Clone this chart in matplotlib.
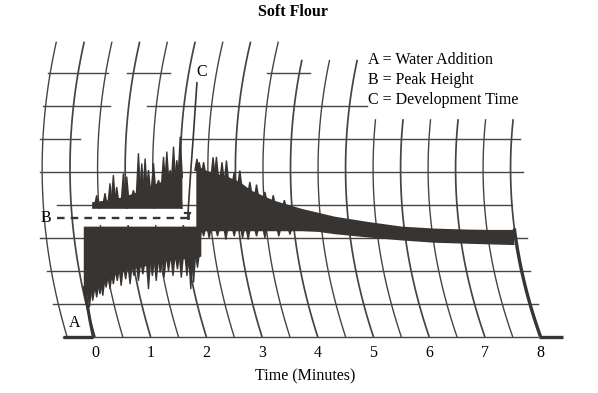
import numpy as np
import matplotlib
matplotlib.use("Agg")
import matplotlib.pyplot as plt
from matplotlib.patches import Rectangle, Polygon

# ---------------- data (time in minutes, height in chart units) ----------------
tick_minutes = [0, 1, 2, 3, 4, 5, 6, 7, 8]
tick_labels = ["0", "1", "2", "3", "4", "5", "6", "7", "8"]

# flat baseline trace before water addition and after the end of mixing
base_left_t = [-0.57, -0.03]
base_right_t = [7.97, 8.40]
# pen rising at water addition
rise_t = [-0.03, -0.09, -0.15, -0.19]
rise_u = [0.0, 0.5, 1.1, 1.5]

# phase 1, lower band (top edge flat)
low1_top_level = 3.36
low1_t = [-0.21, 0.0, 0.25, 0.5, 0.75, 1.0, 1.25, 1.5, 1.75, 1.90]
low1_bot = [1.3, 1.4, 1.8, 2.0, 2.1, 2.2, 2.3, 2.35, 2.4, 2.45]
low1_spike_t = [-0.16, -0.10, -0.04, 0.03, 0.09, 0.14, 0.20, 0.27, 0.33, 0.40,
                0.47, 0.55, 0.63, 0.70, 0.78, 0.86, 0.96, 1.03, 1.10, 1.17,
                1.24, 1.32, 1.40, 1.48, 1.55, 1.65, 1.72, 1.77, 1.84]
low1_spike_u = [1.0, 0.9, 1.1, 1.2, 1.3, 1.25, 1.5, 1.45, 1.6, 1.7,
                1.55, 1.75, 1.6, 1.85, 1.7, 1.9, 1.45, 1.85, 1.7, 1.95,
                1.8, 2.0, 1.85, 2.05, 1.8, 1.85, 1.45, 1.65, 2.1]

# phase 1, upper band (bottom edge flat)
up1_bot_level = 3.90
up1_t = [-0.06, 0.2, 0.5, 0.75, 1.0, 1.25, 1.45, 1.56]
up1_top = [4.1, 4.15, 4.25, 4.4, 4.6, 4.75, 4.9, 5.0]
up1_spike_t = [0.03, 0.18, 0.27, 0.33, 0.39, 0.51, 0.57, 0.69, 0.78, 0.84,
               0.90, 0.96, 1.05, 1.14, 1.23, 1.29, 1.35, 1.41, 1.47, 1.53]
up1_spike_u = [4.3, 4.36, 4.66, 4.91, 4.55, 4.96, 4.86, 4.45, 5.57, 5.26,
               5.41, 5.06, 5.27, 4.76, 5.46, 5.62, 5.06, 5.77, 5.36, 6.07]

# phase 2 (after development time)
t2 = [1.81, 2.0, 2.2, 2.4, 2.6, 2.8, 3.0, 3.2, 3.4, 3.7, 4.0, 4.3, 4.9, 5.5, 6.1, 6.7, 7.1, 7.52]
top2 = [5.2, 5.05, 4.95, 4.85, 4.7, 4.45, 4.3, 4.15, 4.05, 3.9, 3.78, 3.66, 3.5, 3.36, 3.3, 3.27, 3.26, 3.26]
bot2 = [3.2, 3.22, 3.22, 3.22, 3.22, 3.22, 3.22, 3.22, 3.22, 3.22, 3.2, 3.13, 3.03, 2.94, 2.87, 2.84, 2.82, 2.80]
up2_spike_t = [1.83, 1.87, 1.95, 2.12, 2.18, 2.28, 2.36, 2.50, 2.60, 2.78, 2.90, 3.05, 3.20, 3.40]
up2_spike_u = [5.4, 5.3, 5.3, 5.45, 5.46, 5.3, 5.35, 5.0, 5.05, 4.7, 4.62, 4.4, 4.3, 4.15]
dn2_spike_t = [1.88, 1.95, 2.05, 2.20, 2.35, 2.50, 2.65, 2.75, 2.90, 3.05, 3.30, 3.50]
dn2_spike_u = [2.9, 3.05, 3.0, 3.05, 2.95, 3.05, 3.0, 2.95, 3.05, 3.0, 3.05, 3.1]

# end of mixing: trace falls to the baseline along the last arc
drop_top_u = 3.24

# annotation values
peak_height_u = 3.6            # B
peak_line_t = [-0.68, 1.67]
dev_line_t = [1.83, 1.77, 1.71, 1.67]   # C pointer
dev_line_u = [7.7, 6.2, 4.8, 3.75]

# chart-paper grid
arc_minutes = list(np.arange(-0.5, 8.01, 0.5))
arc_tops = [8.95] * 9 + [8.4] * 3 + [6.6] * 6
grid_rows = [
    (0, -0.57, 7.95), (1, -0.75, 7.95), (2, -0.86, 7.81), (3, -0.99, 7.76),
    (4, -0.68, 7.49), (5, -0.99, 7.68), (6, -0.99, -0.27), (6, 1.53, 7.63),
    (7, -0.93, 0.27), (7, 0.93, 4.88), (8, -0.84, 0.23), (8, 0.57, 1.35),
    (8, 3.09, 3.86),
]

legend_lines = ["A = Water Addition", "B = Peak Height", "C = Development Time"]

# ---------------- geometry of the curved chart paper ----------------
PX_MIN = 55.7   # pixels per minute
PX_U = 33.0     # pixels per chart unit
UC = 5.1        # height of arc centre


def arc_x(k, u):
    R = 567.0 - 12.0 * max(k, 0.0)
    dy = PX_U * (np.asarray(u) - UC)
    dyb = PX_U * UC
    return k - (dyb ** 2 - dy ** 2) / (2 * R) / PX_MIN


# ---------------- figure ----------------
plt.rcParams["font.family"] = ["Liberation Serif", "DejaVu Serif"]
fig = plt.figure(figsize=(5.98, 3.93), dpi=100)
ax = fig.add_axes([53.2 / 598, 56 / 393, 512.5 / 598, 303.6 / 393])
ax.set_xlim(-0.75, 8.45)
ax.set_ylim(0, 9.2)
for s in ax.spines.values():
    s.set_visible(False)
ax.set_yticks([])
ax.set_xticks(tick_minutes)
ax.set_xticklabels(tick_labels, fontsize=11.5)
ax.tick_params(axis="x", length=0, pad=6)

gcol = "#444444"
# arcs
for k, top in zip(arc_minutes, arc_tops):
    u = np.linspace(0, top, 80)
    major = abs(k - round(k)) < 1e-9
    ax.plot(arc_x(k, u), u, color=gcol, lw=1.25 if major else 1.0,
            zorder=1, clip_on=False, solid_capstyle="butt")
# horizontal rows
for u, x0, x1 in grid_rows:
    ax.plot([x0, x1], [u, u], color=gcol, lw=1.0, zorder=1, clip_on=False)

# white gap around peak-height line
ax.add_patch(Rectangle((-0.25, low1_top_level + 0.02), 2.06,
                       up1_bot_level - low1_top_level - 0.04,
                       facecolor="white", edgecolor="none", zorder=2))

tc = "#383432"


def spikes(ts, tips, bases, w=0.05):
    for t, tip, b in zip(ts, tips, bases):
        ax.add_patch(Polygon([(t - w, b), (t - 0.012, tip), (t + 0.012, tip), (t + w, b)],
                             closed=True, facecolor=tc, edgecolor="none", zorder=3))


# baseline traces
ax.plot(base_left_t, [0, 0], color=tc, lw=2.4, zorder=3, clip_on=False, solid_capstyle="butt")
ax.plot(base_right_t, [0, 0], color=tc, lw=2.4, zorder=3, clip_on=False, solid_capstyle="butt")
ax.plot(rise_t, rise_u, color=tc, lw=2.2, zorder=3)

# phase 1 lower band
ax.fill_between(low1_t, low1_bot, low1_top_level, color=tc, lw=0, zorder=3)
spikes(low1_spike_t, low1_spike_u, np.interp(low1_spike_t, low1_t, low1_bot) + 0.15)
# phase 1 upper band
ax.fill_between(up1_t, up1_bot_level, up1_top, color=tc, lw=0, zorder=3)
spikes(up1_spike_t, up1_spike_u, np.interp(up1_spike_t, up1_t, up1_top) - 0.15)
# phase 2
ax.fill_between(t2, bot2, top2, color=tc, lw=0, zorder=3)
spikes(up2_spike_t, up2_spike_u, np.interp(up2_spike_t, t2, top2) - 0.15)
spikes(dn2_spike_t, dn2_spike_u, np.interp(dn2_spike_t, t2, bot2) + 0.1)
# drop at end
ud = np.linspace(0, drop_top_u, 40)
ax.plot(arc_x(8.0, ud), ud, color=tc, lw=2.4, zorder=3)

# B dashed line
ax.plot(peak_line_t, [peak_height_u] * 2, color=tc, lw=1.7, ls=(0, (3.2, 2.6)), zorder=4, clip_on=False)
# C pointer
ax.plot(dev_line_t, dev_line_u, color=tc, lw=1.2, zorder=4)
ax.plot([dev_line_t[-1] - 0.05, dev_line_t[-1] + 0.04], [dev_line_u[-1]] * 2, color=tc, lw=1.6, zorder=4)
ax.plot([dev_line_t[-1]] * 2, [peak_height_u, dev_line_u[-1]], color=tc, lw=2.0, zorder=4)

# letters
fs = 11.5
ax.text(-0.36, 0.42, "A", fontsize=fs, ha="center", va="center", zorder=5)
ax.text(-0.88, 3.6, "B", fontsize=fs, ha="center", va="center", zorder=5, clip_on=False)
ax.text(1.92, 8.03, "C", fontsize=fs, ha="center", va="center", zorder=5)
for i, line in enumerate(legend_lines):
    ax.text(4.90, 8.39 - 0.61 * i, line, fontsize=fs, ha="left", va="center", zorder=5)

ax.set_title("Soft Flour", fontsize=11.5, fontweight="bold", x=(293 - 53.2) / 512.5,
             y=(337 - 20) / 303.6, va="center")
ax.set_xlabel("Time (Minutes)", fontsize=11.5)
ax.xaxis.set_label_coords((305 - 53.2) / 512.5, (337 - 368) / 303.6)

fig.savefig("out.png", dpi=100, facecolor="white")
